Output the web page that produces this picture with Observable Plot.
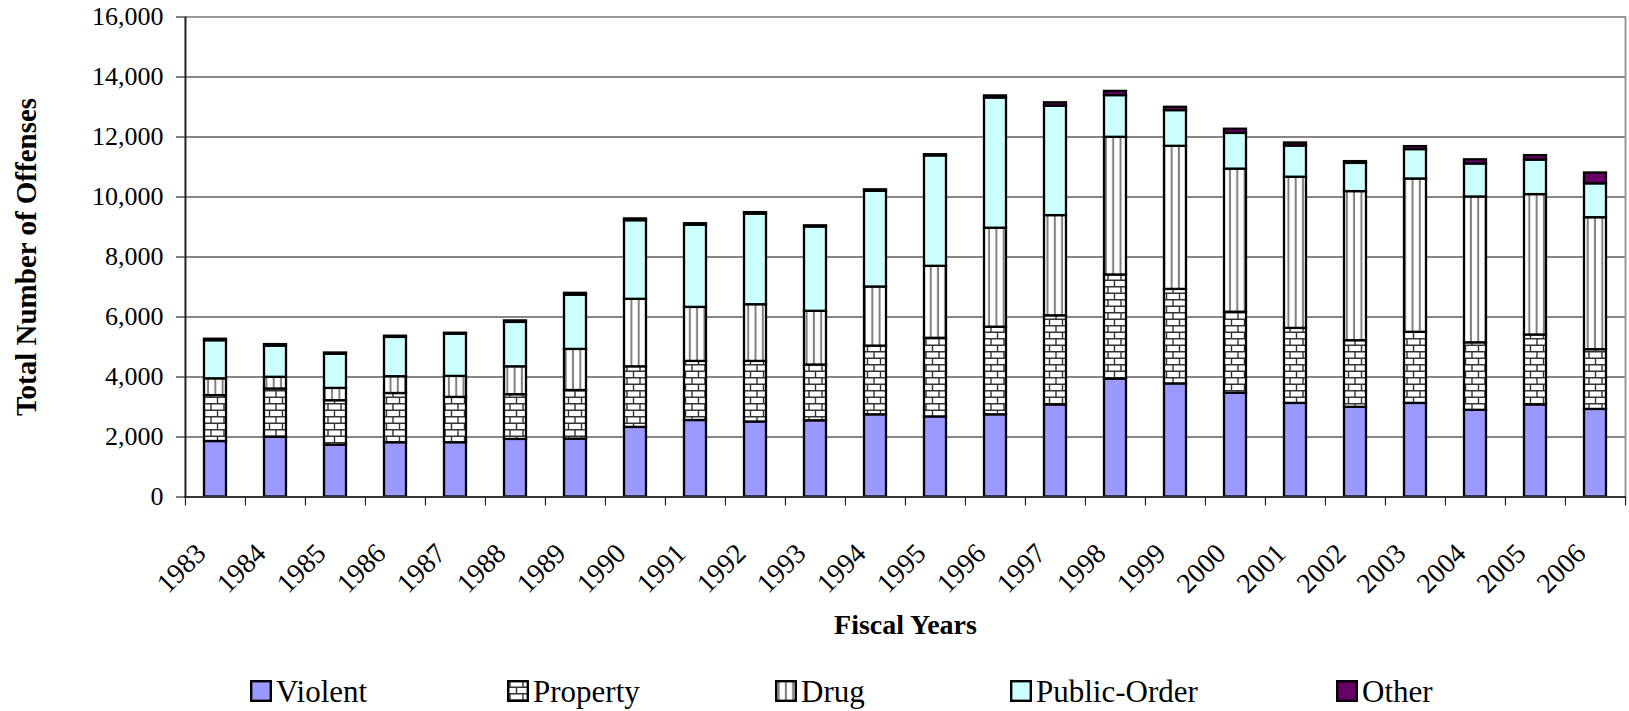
<!DOCTYPE html>
<html>
<head>
<meta charset="utf-8">
<script src="https://cdn.jsdelivr.net/npm/d3@7"></script>
<script src="https://cdn.jsdelivr.net/npm/@observablehq/plot@0.6"></script>
<style>
  html, body { margin: 0; padding: 0; background: #fff; }
  #wrap { width: 1629px; height: 711px; position: relative; overflow: hidden; }
  #legend { position: relative; height: 56px; font-family: "Liberation Serif", "Times New Roman", serif; font-size: 31px; color: #000; }
  .item { position: absolute; top: 21px; height: 32px; line-height: 32px; white-space: nowrap; }
  .item svg { position: absolute; left: 0; top: 4px; }
  .item span { position: absolute; left: 26px; top: 0; }
</style>
</head>
<body>
<svg width="0" height="0" style="position:absolute">
  <defs>
    <pattern id="brick" width="13" height="13" patternUnits="userSpaceOnUse">
      <rect width="13" height="13" fill="#fff"/>
      <path d="M0 0.75H13M0 7.25H13M3 0.75V7.25M9.5 7.25V13" stroke="#333" stroke-width="1.4" fill="none"/>
    </pattern>
    <pattern id="vstripe" width="7.3" height="10" patternUnits="userSpaceOnUse">
      <rect width="7.3" height="10" fill="#fff"/>
      <rect x="2.6" width="2" height="10" fill="#808080"/>
    </pattern>
  </defs>
</svg>
<div id="wrap">
  <div id="chart"></div>
  <div id="legend"></div>
</div>
<script>
// Federal offenses by type, fiscal years 1983–2006
const years = ["1983","1984","1985","1986","1987","1988","1989","1990","1991","1992","1993","1994",
               "1995","1996","1997","1998","1999","2000","2001","2002","2003","2004","2005","2006"];
const seriesNames = ["Violent", "Property", "Drug", "Public-Order", "Other"];

const violent     = [1850,1990,1730,1810,1810,1920,1930,2320,2550,2500,2540,2740,2670,2740,3070,3930,3770,3460,3120,2990,3120,2890,3070,2920];
const property    = [1530,1610,1480,1640,1510,1490,1620,2020,1970,2020,1860,2290,2620,2920,2970,3470,3150,2700,2500,2220,2370,2250,2330,1990];
const drug        = [ 560, 390, 410, 560, 700, 930,1370,2250,1800,1890,1790,1970,2400,3300,3340,4590,4770,4770,5040,4970,5110,4860,4680,4400];
const publicOrder = [1270,1040,1140,1310,1410,1480,1810,2620,2740,3020,2810,3190,3680,4340,3650,1390,1190,1190,1040, 940, 980,1100,1150,1130];
const other       = [  50,  50,  40,  40,  30,  50,  60,  60,  50,  50,  40,  50,  40,  70, 110, 140, 110, 140, 100,  60, 100, 140, 150, 360];

const yTicks = [0, 2000, 4000, 6000, 8000, 10000, 12000, 14000, 16000];
const seriesFills = ["#9999ff", "url(#brick)", "url(#vstripe)", "#ccffff", "#660066"];

const seriesValues = [violent, property, drug, publicOrder, other];
const rows = years.flatMap((year, i) =>
  seriesNames.map((series, k) => ({year, series, value: seriesValues[k][i]}))
);

const W = 1629, H = 655;
const mL = 184, mR = 3, mT = 16.5, mB = 158.5;
const step = (W - mL - mR) / years.length;
const font = "Liberation Serif";

const chart = Plot.plot({
  width: W,
  height: H,
  marginLeft: mL,
  marginRight: mR,
  marginTop: mT,
  marginBottom: mB,
  style: {fontFamily: font, fontSize: "26px", background: "#fff", color: "#000", overflow: "visible"},
  x: {domain: years, paddingInner: 0.63, paddingOuter: 0.315, axis: null},
  y: {domain: [0, 16000]},
  color: {type: "ordinal", domain: seriesNames, range: seriesFills},
  marks: [
    // horizontal gridlines
    Plot.ruleY(yTicks.filter(v => v > 0 && v < 16000), {stroke: "#111", strokeWidth: 1}),
    // top and right border of the plot area
    Plot.ruleY([16000], {stroke: "#999", strokeWidth: 2}),
    Plot.ruleX([years[years.length - 1]], {dx: step / 2, stroke: "#999", strokeWidth: 2}),
    // stacked bars
    Plot.barY(rows, {x: "year", y: "value", fill: "series", stroke: "#000", strokeWidth: 2.3}),
    // axis lines
    Plot.ruleY([0], {stroke: "#333", strokeWidth: 2}),
    Plot.ruleX([years[0]], {dx: -step / 2, stroke: "#222", strokeWidth: 2}),
    // category separator ticks below the baseline
    Plot.ruleX(years, {x: d => d, y1: 0, y2: 0, insetBottom: -9, dx: -step / 2, stroke: "#222", strokeWidth: 1.2}),
    Plot.ruleX([years[years.length - 1]], {x: d => d, y1: 0, y2: 0, insetBottom: -9, dx: step / 2, stroke: "#222", strokeWidth: 1.2}),
    // y axis
    Plot.axisY({ticks: yTicks, tickSize: 8, tickPadding: 13, tickFormat: d3.format(","), fontSize: 26, label: null}),
    // rotated year labels
    Plot.text(years, {x: d => d, frameAnchor: "bottom", text: d => d, rotate: -45, textAnchor: "end",
                      dx: -8, dy: 58, fontSize: 28}),
    // axis titles
    Plot.text(["Total Number of Offenses"], {frameAnchor: "left", textAnchor: "middle", dx: -158, rotate: -90,
                      fontWeight: "bold", fontSize: 29}),
    Plot.text(["Fiscal Years"], {frameAnchor: "bottom", textAnchor: "middle", dy: 136.5, fontWeight: "bold", fontSize: 28})
  ]
});
document.getElementById("chart").appendChild(chart);

// legend
const legendX = [250, 507, 775, 1010, 1336];
const legend = document.getElementById("legend");
seriesNames.forEach((name, k) => {
  const item = document.createElement("div");
  item.className = "item";
  item.style.left = legendX[k] + "px";
  item.innerHTML =
    `<svg width="22" height="22"><rect x="1.2" y="1.2" width="19.6" height="19.6" fill="${seriesFills[k]}" stroke="#000" stroke-width="2.4"/></svg>` +
    `<span>${name}</span>`;
  legend.appendChild(item);
});
</script>
</body>
</html>
